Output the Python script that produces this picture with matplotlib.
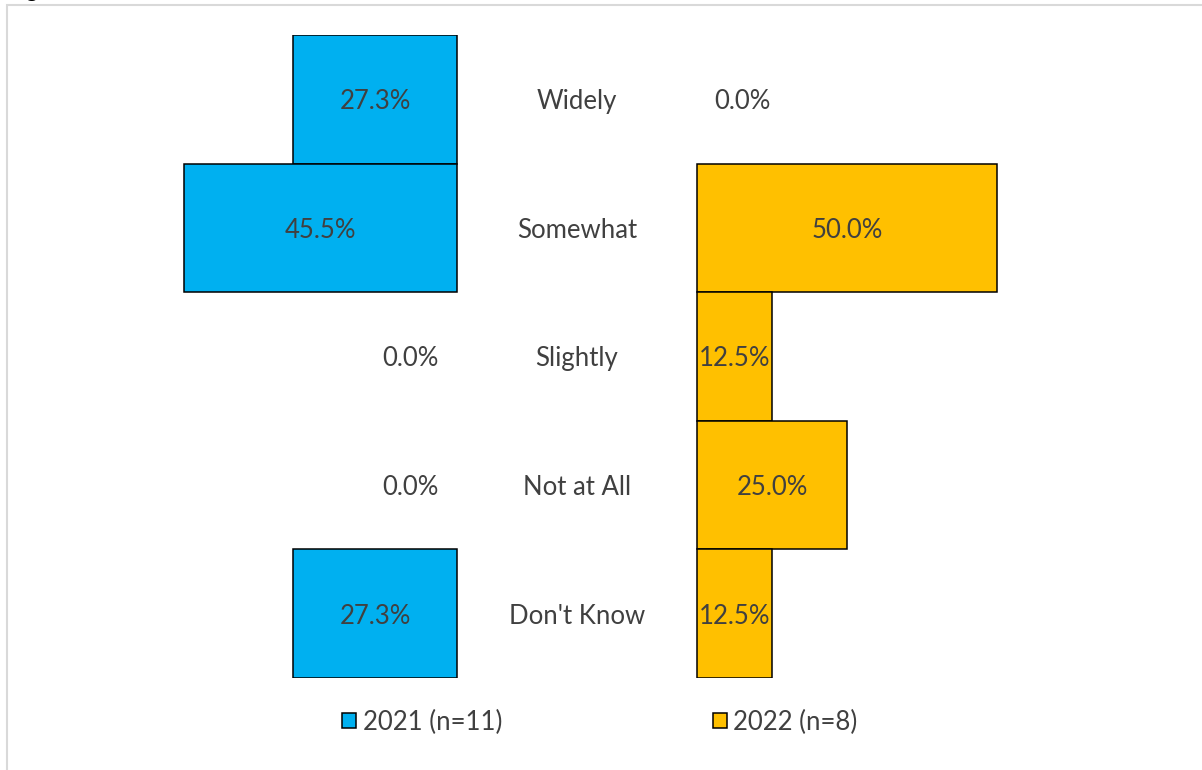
import matplotlib.pyplot as plt
from matplotlib.patches import Rectangle, Patch

categories = ["Widely", "Somewhat", "Slightly", "Not at All", "Don't Know"]
pct_2021 = [27.3, 45.5, 0.0, 0.0, 27.3]
pct_2022 = [0.0, 50.0, 12.5, 25.0, 12.5]
series_names = ["2021 (n=11)", "2022 (n=8)"]

blue = "#00B0F0"
gold = "#FFC000"
txt = "#404040"
gap = 20  # half-width of the centre column holding the category names

plt.rcParams['font.family'] = ['Lato', 'DejaVu Sans']

W, H = 1202, 770
fig = plt.figure(figsize=(W / 100, H / 100), dpi=100)

# chart area outline (runs off the right and bottom edges)
fig.patches.append(Rectangle((7 / W, -0.1), 1.2, 1 - 5 / H + 0.1,
                             transform=fig.transFigure, fill=False,
                             edgecolor="#d9d9d9", linewidth=1.5))
fig.text(8 / W, 1 + 3 / H, "Figure", fontsize=16, fontweight="bold",
         va="baseline", ha="left", color="black")

ax = fig.add_axes([7 / W, 1 - 678 / H, (W - 7) / W, (678 - 35) / H])
ax.set_xlim(-95, (W - 577) / 6)
ax.set_ylim(len(categories) - 0.5, -0.5)
ax.axis("off")

ys = list(range(len(categories)))
ax.barh(ys, [-v for v in pct_2021], left=-gap, height=1.0, color=blue,
        edgecolor="black", linewidth=[1.1 if v > 0 else 0 for v in pct_2021])
ax.barh(ys, pct_2022, left=gap, height=1.0, color=gold,
        edgecolor="black", linewidth=[1.1 if v > 0 else 0 for v in pct_2022])

fs = 18.5
for y, name, a, b in zip(ys, categories, pct_2021, pct_2022):
    ax.text(0, y, name, ha="center", va="center_baseline", fontsize=fs, color=txt)
    xa = -gap - a / 2 if a > 0 else -gap - 7.7
    xb = gap + b / 2 if b > 0 else gap + 7.5
    ax.text(xa, y, f"{a:.1f}%", ha="center", va="center_baseline", fontsize=fs, color=txt)
    ax.text(xb, y, f"{b:.1f}%", ha="center", va="center_baseline", fontsize=fs, color=txt)

handles = [Patch(facecolor=blue, edgecolor="black", linewidth=1.1),
           Patch(facecolor=gold, edgecolor="black", linewidth=1.1)]
fig.legend(handles, series_names, loc="center", ncol=2,
           bbox_to_anchor=(600 / W, 1 - 722 / H), frameon=False,
           fontsize=fs, handlelength=0.55, handleheight=0.55,
           handletextpad=0.25, columnspacing=8.2, labelcolor=txt)

fig.savefig("out.png", dpi=100)
